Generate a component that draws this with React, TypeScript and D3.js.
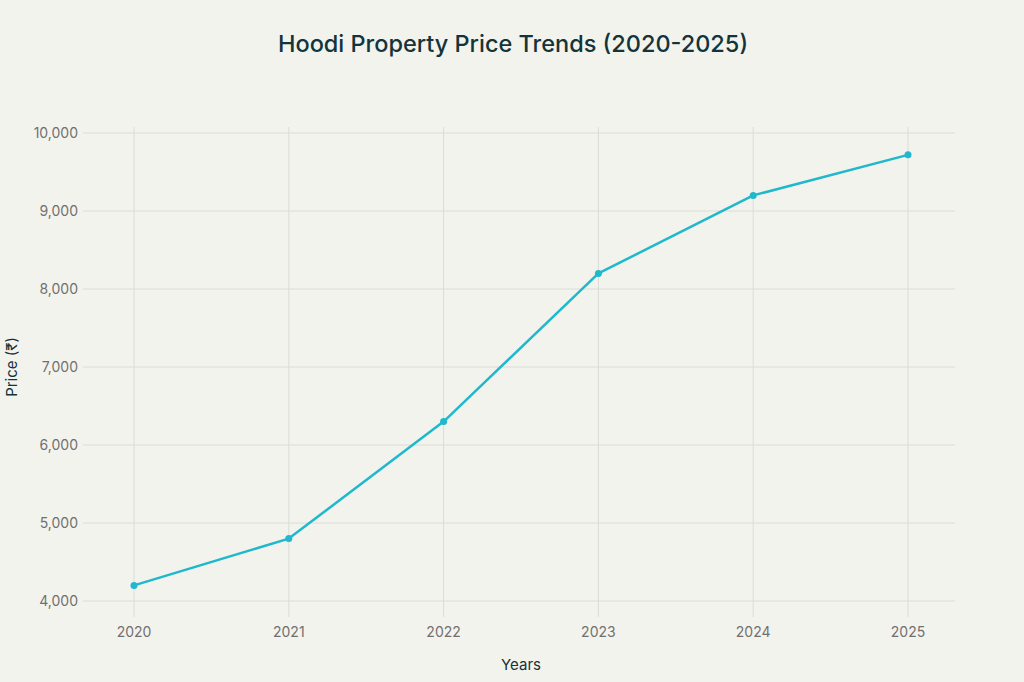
import * as d3 from 'd3'

const years = [2020, 2021, 2022, 2023, 2024, 2025]
const prices = [4200, 4800, 6300, 8200, 9200, 9720]
const yTicks = [4000, 5000, 6000, 7000, 8000, 9000, 10000]

const W = 1024
const H = 682
const font = 'Inter, "Noto Sans", sans-serif'

export default function App() {
  const x = d3.scaleLinear().domain([2020, 2025]).range([134, 908])
  const y = d3.scaleLinear().domain([4000, 10000]).range([601, 133])
  const fmt = d3.format(',')

  const pts = years.map((yr, i) => ({ yr, v: prices[i] }))
  const path = d3
    .line<{ yr: number; v: number }>()
    .x((d) => x(d.yr))
    .y((d) => y(d.v))(pts)

  return (
    <svg width={W} height={H} style={{ position: 'absolute', left: 0, top: 0, background: '#f3f3ee' }}>
      <rect width={W} height={H} fill="#f3f3ee" />
      <text x={513} y={52} textAnchor="middle" fontFamily={font} fontSize={23.5} fontWeight={500} fill="#13343b">
        Hoodi Property Price Trends (2020-2025)
      </text>

      {years.map((yr) => (
        <g key={yr}>
          <line x1={x(yr)} x2={x(yr)} y1={127} y2={617} stroke="#dcdcd6" strokeWidth={1} />
          <text x={x(yr)} y={637} textAnchor="middle" fontFamily={font} fontSize={14} fill="#707070">
            {yr}
          </text>
        </g>
      ))}
      {yTicks.map((t) => (
        <g key={t}>
          <line x1={83} x2={955} y1={y(t)} y2={y(t)} stroke="#dcdcd6" strokeWidth={1} />
          <text x={78} y={y(t) + 5} textAnchor="end" fontFamily={font} fontSize={14} fill="#707070">
            {fmt(t)}
          </text>
        </g>
      ))}

      <path d={path ?? ''} fill="none" stroke="#1fb8cd" strokeWidth={2.5} strokeLinejoin="round" />
      {pts.map((d) => (
        <circle key={d.yr} cx={x(d.yr)} cy={y(d.v)} r={3.5} fill="#1fb8cd" />
      ))}

      <text x={521} y={670} textAnchor="middle" fontFamily={font} fontSize={15} fill="#13343b">
        Years
      </text>
      <text
        transform={`translate(17,367) rotate(-90)`}
        textAnchor="middle"
        fontFamily={font}
        fontSize={15}
        fill="#13343b"
      >
        Price (₹)
      </text>
    </svg>
  )
}
